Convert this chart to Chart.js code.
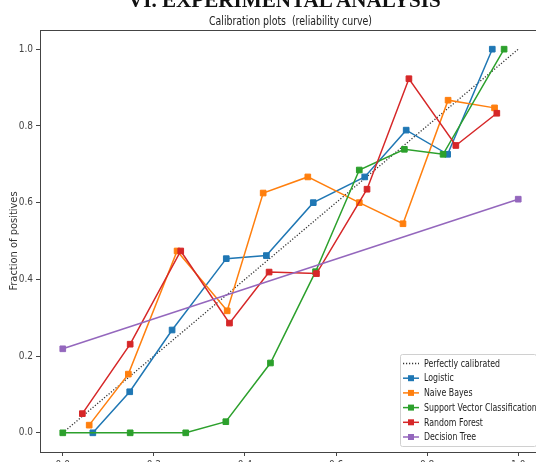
<!DOCTYPE html>
<html>
<head>
<meta charset="utf-8">
<script src="https://cdn.jsdelivr.net/npm/chart.js@4/dist/chart.umd.min.js"></script>
<style>
  html, body { margin: 0; padding: 0; background: #fff; }
  #wrap { position: relative; width: 536px; height: 462px; overflow: hidden; background: #fff; }
  #c { position: absolute; left: 0; top: 0; }
  #heading { position: absolute; left: 128px; top: -11px; font-family: 'Liberation Serif', serif; font-weight: bold; font-size: 22px; line-height: 22px; color: #111; white-space: nowrap; z-index: 2; transform: scaleX(0.96); transform-origin: left top; }
</style>
</head>
<body>
<div id="wrap">
  <div id="heading">VI. EXPERIMENTAL ANALYSIS</div>
  <canvas id="c" width="560" height="470"></canvas>
</div>
<script>
// ---- data ----
const chartTitle = 'Calibration plots  (reliability curve)';
const yAxisLabel = 'Fraction of positives';
const xTicks = [0.0, 0.2, 0.4, 0.6, 0.8, 1.0];
const yTicks = [0.0, 0.2, 0.4, 0.6, 0.8, 1.0];

const seriesNames = ['Perfectly calibrated', 'Logistic', 'Naive Bayes', 'Support Vector Classification', 'Random Forest', 'Decision Tree'];

const refX = [0.0, 1.0];
const refY = [0.0, 1.0];

const logisticX = [0.066, 0.147, 0.240, 0.359, 0.447, 0.550, 0.663, 0.754, 0.845, 0.943];
const logisticY = [0.000, 0.107, 0.268, 0.454, 0.462, 0.600, 0.667, 0.789, 0.726, 1.000];

const naiveBayesX = [0.058, 0.144, 0.251, 0.361, 0.440, 0.538, 0.651, 0.747, 0.846, 0.948];
const naiveBayesY = [0.020, 0.153, 0.474, 0.318, 0.625, 0.667, 0.600, 0.545, 0.867, 0.847];

const svcX = [0.000, 0.148, 0.270, 0.358, 0.456, 0.555, 0.651, 0.750, 0.835, 0.969];
const svcY = [0.000, 0.000, 0.000, 0.029, 0.182, 0.420, 0.685, 0.739, 0.726, 1.000];

const randomForestX = [0.043, 0.148, 0.259, 0.366, 0.453, 0.557, 0.668, 0.760, 0.863, 0.953];
const randomForestY = [0.050, 0.231, 0.474, 0.286, 0.419, 0.415, 0.635, 0.923, 0.749, 0.833];

const decisionTreeX = [0.0, 1.0];
const decisionTreeY = [0.219, 0.609];

// ---- styling ----
const colors = ['#222222', '#1f77b4', '#ff7f0e', '#2ca02c', '#d62728', '#9467bd'];
const FONT = "'Liberation Sans Narrow', 'DejaVu Sans Condensed', sans-serif";

function pts(xs, ys) { return xs.map((x, i) => ({ x: x, y: ys[i] })); }

const seriesData = [
  pts(refX, refY),
  pts(logisticX, logisticY),
  pts(naiveBayesX, naiveBayesY),
  pts(svcX, svcY),
  pts(randomForestX, randomForestY),
  pts(decisionTreeX, decisionTreeY)
];

const datasets = seriesData.map((d, i) => {
  const ds = {
    label: seriesNames[i],
    data: d,
    borderColor: colors[i],
    backgroundColor: colors[i],
    borderWidth: 1.5,
    pointStyle: 'rect',
    pointRadius: 4,
    pointBorderWidth: 1,
    pointBackgroundColor: colors[i],
    pointBorderColor: colors[i],
    showLine: true,
    fill: false,
    tension: 0,
    order: seriesData.length - i
  };
  if (i === 0) {
    ds.borderDash = [1.2, 1.8];
    ds.borderWidth = 1.3;
    ds.pointRadius = 0;
    ds.borderColor = '#333';
  }
  return ds;
});

function squeezedText(ctx, text, x, y, sx) {
  ctx.save();
  ctx.translate(x, y);
  ctx.scale(sx, 1);
  ctx.fillText(text, 0, 0);
  ctx.restore();
}

const frameAndTextPlugin = {
  id: 'frameAndText',
  afterDraw(chart) {
    const ctx = chart.ctx;
    const a = chart.chartArea;
    ctx.save();
    // frame
    ctx.strokeStyle = '#444';
    ctx.lineWidth = 1;
    ctx.strokeRect(Math.round(a.left) + 0.5, Math.round(a.top) + 0.5, Math.round(a.right - a.left), Math.round(a.bottom - a.top));
    // title
    ctx.fillStyle = '#222';
    ctx.font = '12px ' + FONT;
    ctx.textAlign = 'center';
    ctx.textBaseline = 'alphabetic';
    squeezedText(ctx, chartTitle, (a.left + a.right) / 2, a.top - 5, 0.87);

    // legend (lower right, inside axes)
    const w = 136, h = 92;
    const lx = a.right - 5 - w, ly = a.bottom - 6 - h;
    ctx.fillStyle = 'rgba(255,255,255,0.85)';
    ctx.strokeStyle = '#d0d0d0';
    ctx.lineWidth = 1;
    ctx.beginPath();
    if (ctx.roundRect) ctx.roundRect(lx + 0.5, ly + 0.5, w, h, 2); else ctx.rect(lx + 0.5, ly + 0.5, w, h);
    ctx.fill();
    ctx.stroke();
    chart.data.datasets.forEach((ds, i) => {
      const cy = ly + 9.5 + i * 14.7;
      ctx.save();
      ctx.strokeStyle = ds.borderColor;
      ctx.lineWidth = ds.borderWidth;
      if (ds.borderDash) ctx.setLineDash(ds.borderDash);
      ctx.beginPath();
      ctx.moveTo(lx + 3, cy);
      ctx.lineTo(lx + 19, cy);
      ctx.stroke();
      ctx.setLineDash([]);
      if (i > 0) {
        ctx.fillStyle = ds.backgroundColor;
        ctx.fillRect(lx + 11 - 3, cy - 3, 6, 6);
      }
      ctx.restore();
      ctx.fillStyle = '#222';
      ctx.font = '10.5px ' + FONT;
      ctx.textAlign = 'left';
      ctx.textBaseline = 'middle';
      squeezedText(ctx, ds.label, lx + 24, cy + 0.5, 0.83);
    });
    ctx.restore();
  }
};

new Chart(document.getElementById('c'), {
  type: 'scatter',
  data: { datasets: datasets },
  options: {
    responsive: false,
    animation: false,
    devicePixelRatio: 1,
    layout: { padding: { top: 30, right: 19, left: 0, bottom: 0 } },
    plugins: { legend: { display: false }, tooltip: { enabled: false }, title: { display: false } },
    scales: {
      x: {
        type: 'linear',
        min: -0.05, max: 1.05,
        afterFit(s) { s.height = 18; },
        afterBuildTicks(s) { s.ticks = xTicks.map(v => ({ value: v })); },
        ticks: { font: { family: FONT, size: 10 }, color: '#444', padding: 3, callback: v => Number(v).toFixed(1), maxRotation: 0, autoSkip: false },
        grid: { display: true, drawOnChartArea: false, drawTicks: true, tickLength: 4, color: '#444' },
        border: { display: true, color: '#444', width: 1 }
      },
      y: {
        type: 'linear',
        min: -0.05, max: 1.05,
        afterFit(s) { s.width = 40; },
        afterBuildTicks(s) { s.ticks = yTicks.map(v => ({ value: v })); },
        ticks: { font: { family: FONT, size: 10 }, color: '#444', padding: 3, callback: v => Number(v).toFixed(1), autoSkip: false },
        grid: { display: true, drawOnChartArea: false, drawTicks: true, tickLength: 4, color: '#444' },
        border: { display: true, color: '#444', width: 1 },
        title: { display: true, text: yAxisLabel, font: { family: FONT, size: 11 }, color: '#333', padding: { top: 8, bottom: 0 } }
      }
    }
  },
  plugins: [frameAndTextPlugin]
});
</script>
</body>
</html>
